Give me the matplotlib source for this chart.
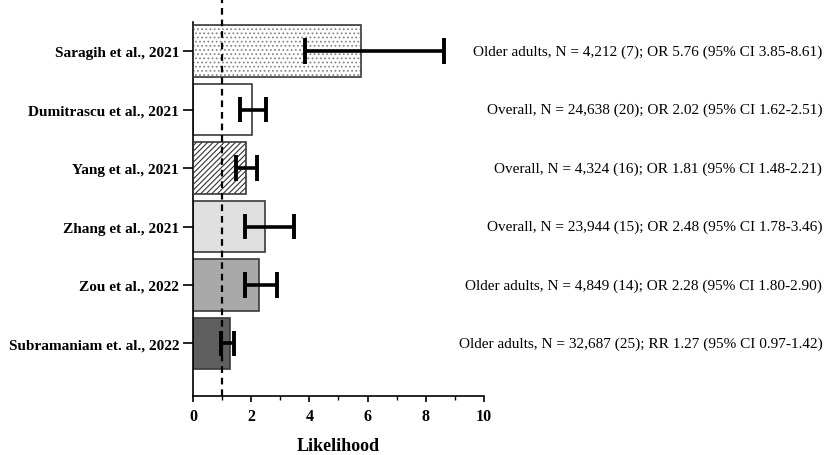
import matplotlib
matplotlib.use("Agg")
import matplotlib.pyplot as plt
import matplotlib.transforms as mtransforms

studies = ["Saragih et al., 2021", "Dumitrascu et al., 2021", "Yang et al., 2021",
           "Zhang et al., 2021", "Zou et al., 2022", "Subramaniam et. al., 2022"]
estimates = [5.76, 2.02, 1.81, 2.48, 2.28, 1.27]
ci_low = [3.85, 1.62, 1.48, 1.78, 1.80, 0.97]
ci_high = [8.61, 2.51, 2.21, 3.46, 2.90, 1.42]
notes = ["Older adults, N = 4,212 (7); OR 5.76 (95% CI 3.85-8.61)",
         "Overall, N = 24,638 (20); OR 2.02 (95% CI 1.62-2.51)",
         "Overall, N = 4,324 (16); OR 1.81 (95% CI 1.48-2.21)",
         "Overall, N = 23,944 (15); OR 2.48 (95% CI 1.78-3.46)",
         "Older adults, N = 4,849 (14); OR 2.28 (95% CI 1.80-2.90)",
         "Older adults, N = 32,687 (25); RR 1.27 (95% CI 0.97-1.42)"]
xticks = [0, 2, 4, 6, 8, 10]

faces = ["white", "white", "white", "#e0e0e0", "#a9a9a9", "#5f5f5f"]
hatches = ["....", None, "//////", None, None, None]
hatch_cols = ["#888888", None, "#333333", None, None, None]

plt.rcParams["font.family"] = ["Liberation Serif", "DejaVu Serif"]
plt.rcParams["hatch.linewidth"] = 0.8

fig = plt.figure(figsize=(8.29, 4.56), dpi=100)
ax = fig.add_axes([0.2328, 0.1294, 0.3510, 0.8202])

pos = list(range(len(studies)))
h = 0.88
for i in pos:
    if hatches[i]:
        ax.barh(i, estimates[i], height=h, color=faces[i], edgecolor=hatch_cols[i],
                hatch=hatches[i], linewidth=0, zorder=2)
        ax.barh(i, estimates[i], height=h, color="none", edgecolor="#3a3a3a",
                linewidth=1.2, zorder=3)
    else:
        ax.barh(i, estimates[i], height=h, color=faces[i], edgecolor="#3a3a3a",
                linewidth=1.2, zorder=2)

for i in pos:
    ax.plot([ci_low[i], ci_high[i]], [i, i], color="black", lw=2.6, zorder=5,
            solid_capstyle="butt")
    for xv in (ci_low[i], ci_high[i]):
        ax.plot([xv, xv], [i - 0.22, i + 0.22], color="black", lw=2.8, zorder=5,
                solid_capstyle="butt")

trans = mtransforms.blended_transform_factory(ax.transData, ax.transAxes)
ax.plot([1, 1], [0, 1.062], transform=trans, color="black", lw=1.6,
        ls=(0, (3, 2.2)), clip_on=False, zorder=6)

ax.set_xlim(0, 10)
ax.set_ylim(5.9, -0.5)
ax.set_xticks(xticks)
ax.set_xticks([1, 3, 5, 7, 9], minor=True)
ax.set_xticklabels([str(t) for t in xticks], fontweight="bold", fontsize=11.5)
ax.set_yticks(pos)
ax.set_yticklabels(studies, fontweight="bold", fontsize=11)
ax.tick_params(axis="y", length=7, width=1.2, pad=3)
ax.tick_params(axis="x", which="major", length=4, width=1.2, pad=5)
ax.tick_params(axis="x", which="minor", length=3, width=1.0)
ax.spines["top"].set_visible(False)
ax.spines["right"].set_visible(False)
for s in ("left", "bottom"):
    ax.spines[s].set_linewidth(1.2)
ax.set_xlabel("Likelihood", fontweight="bold", fontsize=13, labelpad=9)

ttrans = mtransforms.blended_transform_factory(fig.transFigure, ax.transData)
for i in pos:
    ax.text(0.992, i, notes[i], transform=ttrans, ha="right", va="center", fontsize=11)

fig.savefig("out.png", dpi=100)
